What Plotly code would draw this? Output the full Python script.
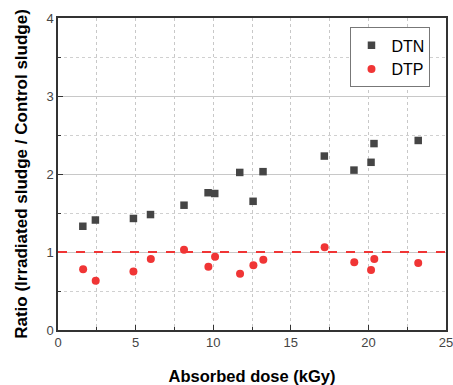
import plotly.graph_objects as go

dose_dtn = [1.60, 2.41, 4.86, 5.96, 8.12, 9.67, 10.10, 11.71, 12.57, 13.21, 17.16, 19.07, 20.17, 20.36, 23.21]
ratio_dtn = [1.33, 1.41, 1.43, 1.48, 1.60, 1.76, 1.75, 2.02, 1.65, 2.03, 2.23, 2.05, 2.15, 2.39, 2.43]
dose_dtp = [1.62, 2.43, 4.86, 5.98, 8.12, 9.69, 10.12, 11.73, 12.59, 13.23, 17.18, 19.09, 20.17, 20.38, 23.21]
ratio_dtp = [0.78, 0.63, 0.75, 0.91, 1.03, 0.81, 0.94, 0.72, 0.83, 0.90, 1.06, 0.87, 0.77, 0.91, 0.86]
ref_level = 1.0

fig = go.Figure()
fig.add_trace(go.Scatter(x=dose_dtn, y=ratio_dtn, mode="markers", name="DTN",
                         marker=dict(symbol="square", size=7.5, color="#454545")))
fig.add_trace(go.Scatter(x=dose_dtp, y=ratio_dtp, mode="markers", name="DTP",
                         marker=dict(symbol="circle", size=8, color="#f03535")))
fig.add_hline(y=ref_level, line=dict(color="#f03535", width=2, dash="dash"))

axis_common = dict(showline=True, linecolor="#333", linewidth=1.5, mirror=True,
                   ticks="inside", ticklen=5, tickcolor="#333", zeroline=False, automargin=False,
                   ticklabeloverflow="allow",
                   tickfont=dict(family="Liberation Sans, Arial", size=13, color="#444"))

fig.update_xaxes(range=[0, 25], dtick=5, tick0=0, showgrid=True, gridcolor="#c8c8c8",
                 griddash="dot", gridwidth=1,
                 minor=dict(dtick=2.5, tick0=0, showgrid=True, gridcolor="#c8c8c8", griddash="dot",
                            ticks="inside", ticklen=3, tickcolor="#333"),
                 title=dict(text="<b>Absorbed dose (kGy)</b>", standoff=22,
                            font=dict(family="Liberation Sans, Arial", size=16.5, color="black")),
                 **axis_common)
fig.update_yaxes(range=[0, 4], dtick=1, tick0=0, showgrid=True, gridcolor="#c8c8c8", gridwidth=1,
                 minor=dict(dtick=0.5, tick0=0, showgrid=True, gridcolor="#d0d0d0", griddash="dot",
                            ticks="inside", ticklen=3, tickcolor="#333"),
                 title=dict(text="<b>Ratio (Irradiated sludge / Control sludge)</b>", standoff=14,
                            font=dict(family="Liberation Sans, Arial", size=17, color="black")),
                 **axis_common)

fig.update_layout(
    width=453, height=385,
    margin=dict(l=58, r=7, t=18, b=55),
    plot_bgcolor="white", paper_bgcolor="white",
    showlegend=True,
    legend=dict(x=0.96, y=0.97, xanchor="right", yanchor="top",
                bordercolor="#777", borderwidth=1, bgcolor="white",
                font=dict(family="Liberation Sans, Arial", size=16, color="black"),
                itemwidth=30, tracegroupgap=2),
)

fig.write_html("out.html")
